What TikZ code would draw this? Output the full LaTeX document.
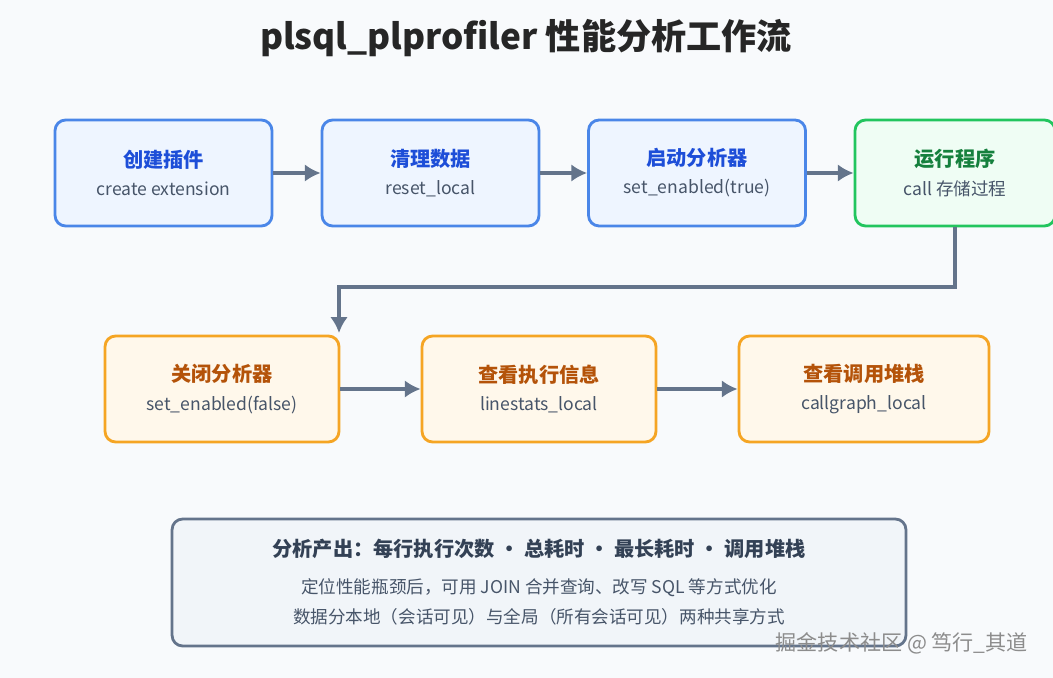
\documentclass[tikz,border=0pt]{standalone}
\usepackage{fontspec}
\setmainfont{Noto Sans CJK SC}
\usetikzlibrary{positioning,arrows.meta}
\definecolor{bgc}{HTML}{F8FAFC}
\definecolor{arrc}{HTML}{64748B}
\definecolor{bluel}{HTML}{4A86E8}
\definecolor{bluef}{HTML}{EEF5FF}
\definecolor{bluet}{HTML}{1D4ED8}
\definecolor{greenl}{HTML}{22C55E}
\definecolor{greenf}{HTML}{EFFDF4}
\definecolor{greent}{HTML}{15803D}
\definecolor{orangel}{HTML}{F5A524}
\definecolor{orangef}{HTML}{FFF8EB}
\definecolor{oranget}{HTML}{B45309}
\definecolor{darkt}{HTML}{334155}
\definecolor{subt}{HTML}{475569}
\definecolor{sumf}{HTML}{F1F5F9}
\tikzset{
  stagebox/.style = {draw, line width=1.6pt, rounded corners=6pt, align=center,
                 minimum height=2.12cm, font=\fontsize{10}{13}\selectfont, text=subt},
  bluebox/.style = {stagebox, draw=bluel, fill=bluef, minimum width=4.34cm},
  greenbox/.style = {stagebox, draw=greenl, fill=greenf, minimum width=4.0cm},
  orangebox/.style = {stagebox, draw=orangel, fill=orangef, minimum width=4.68cm},
  flow/.style = {draw=arrc, line width=1.8pt, -{Latex[length=9pt,width=10pt]}},
}
\newcommand{\steptitle}[2]{{\fontsize{11.5}{15}\selectfont\bfseries\color{#1}#2}\\[3pt]}
\begin{document}
\begin{tikzpicture}[x=0.02cm,y=-0.02cm]
  \fill[bgc] (0,0) rectangle (1053,678);
  \useasboundingbox (0,0) rectangle (1053,678);

  \node[font=\fontsize{20}{24}\selectfont\bfseries, text=black!85] (title) at (526,38) {plsql\_plprofiler 性能分析工作流};

  % first row
  \node[bluebox] (ext) at (163.5,173) {\steptitle{bluet}{创建插件}create extension};
  \node[bluebox] (reset) at (430.5,173) {\steptitle{bluet}{清理数据}reset\_local};
  \node[bluebox] (start) at (697,173) {\steptitle{bluet}{启动分析器}set\_enabled(true)};
  \node[greenbox] (run) at (955,173) {\steptitle{greent}{运行程序}call 存储过程};

  % second row
  \node[orangebox] (stop) at (222,389) {\steptitle{oranget}{关闭分析器}set\_enabled(false)};
  \node[orangebox] (lines) at (539,389) {\steptitle{oranget}{查看执行信息}linestats\_local};
  \node[orangebox, minimum width=5cm] (graph) at (864,389) {\steptitle{oranget}{查看调用堆栈}callgraph\_local};

  \draw[flow] (ext) -- (reset);
  \draw[flow] (reset) -- (start);
  \draw[flow] (start) -- (run);
  \coordinate (turn) at (339,333);
  \draw[flow] (run.south) |- (339,287) -- (turn);
  \draw[flow] (stop) -- (lines);
  \draw[flow] (lines) -- (graph);

  % summary
  \node[draw=arrc, line width=1.6pt, fill=sumf, rounded corners=6pt,
        minimum width=14.68cm, minimum height=2.54cm, align=center,
        text=subt, font=\fontsize{10}{17}\selectfont] (sum) at (539,582.5)
    {{\fontsize{11.5}{15}\selectfont\bfseries\color{darkt}分析产出：每行执行次数 • 总耗时 • 最长耗时 • 调用堆栈}\\[4pt]
     定位性能瓶颈后，可用 JOIN 合并查询、改写 SQL 等方式优化\\
     数据分本地（会话可见）与全局（所有会话可见）两种共享方式};

  \node[anchor=east, text=black!45, font=\fontsize{12}{14}\selectfont] (mark) at (1034,643) {掘金技术社区 @ 笃行\_其道};
\end{tikzpicture}
\end{document}
